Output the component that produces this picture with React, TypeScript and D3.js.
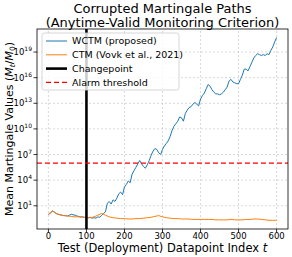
import React from 'react';
import * as d3 from 'd3';

// log10 of the mean martingale
const wctmT = d3.range(0, 601, 5);
const wctmLog = [
  0.0, 0.1, 0.4, 0.3, 0.1, 0.0, -0.05, -0.1, -0.15, -0.15,
  -0.2, -0.1, 0.0, -0.05, -0.1, -0.2, -0.25, -0.3, -0.3, -0.35,
  -0.35, -0.4, -0.35, -0.45, -0.4, -0.45, -0.3, -0.35, -0.1, 0.1,
  0.3, 1.3, 1.5, 1.2, 1.7, 1.5, 1.9, 2.4, 2.6, 2.3,
  3.2, 3.5, 3.9, 3.7, 4.7, 5.1, 5.5, 5.9, 6.3, 5.9,
  5.6, 5.4, 5.8, 6.3, 6.9, 7.4, 7.7, 7.6, 7.2, 7.0,
  7.6, 8.0, 8.3, 8.6, 9.1, 9.8, 10.3, 10.6, 10.9, 11.4,
  11.3, 10.9, 11.8, 12.2, 12.5, 12.6, 12.9, 13.1, 12.9, 12.7,
  13.5, 13.9, 14.2, 14.7, 15.2, 15.0, 14.6, 14.3, 14.1, 14.1,
  14.0, 14.1, 14.3, 14.6, 14.9, 15.6, 15.8, 15.5, 15.4, 15.3,
  15.3, 15.8, 16.3, 17.0, 17.0, 16.8, 17.3, 17.8, 18.3, 18.6,
  18.8, 18.7, 18.6, 18.7, 18.6, 18.8, 18.7, 19.2, 19.6, 20.2,
  20.7,
];
const ctmT = d3.range(0, 601, 10);
const ctmLog = [
  0.0, 0.4, 0.1, -0.05, -0.15, -0.2, -0.25, -0.3, -0.3, -0.35,
  -0.4, -0.4, -0.3, -0.1, 0.1, -0.1, -0.3, -0.4, -0.45, -0.5,
  -0.5, -0.55, -0.55, -0.5, -0.5, -0.45, -0.4, -0.35, -0.25, -0.15,
  -0.3, -0.4, -0.45, -0.5, -0.5, -0.55, -0.55, -0.55, -0.6, -0.6,
  -0.6, -0.6, -0.6, -0.6, -0.65, -0.65, -0.65, -0.65, -0.6, -0.65,
  -0.65, -0.65, -0.6, -0.6, -0.55, -0.55, -0.6, -0.65, -0.7, -0.7,
  -0.7,
];
const changepoint = 100;
const alarmThreshold = 1e6;
const xTicks = [0, 100, 200, 300, 400, 500, 600];
const yTickExps = [1, 4, 7, 10, 13, 16, 19];
const legendLabels = ['WCTM (proposed)', 'CTM (Vovk et al., 2021)', 'Changepoint', 'Alarm threshold'];

const W = 292;
const H = 257;
const margin = { top: 29, right: 4, bottom: 28, left: 37 };
const font = 'DejaVu Sans, sans-serif';

export default function App() {
  const x = d3.scaleLinear().domain([-30, 630]).range([margin.left, W - margin.right]);
  const y = d3.scaleLog().domain([Math.pow(10, -1.72), Math.pow(10, 21.7)]).range([H - margin.bottom, margin.top]);

  const line = d3.line<[number, number]>().x(d => x(d[0])).y(d => y(Math.pow(10, d[1])));
  const wctm = line(wctmT.map((t, i) => [t, wctmLog[i]] as [number, number])) || '';
  const ctm = line(ctmT.map((t, i) => [t, ctmLog[i]] as [number, number])) || '';

  const [x0, x1] = x.range();
  const [y0, y1] = y.range();
  const lx = x0 + 5;
  const ly = y1 + 4;
  const rowH = 13.8;

  return (
    <svg width={W} height={H} style={{ position: 'absolute', left: 0, top: 0 }} fontFamily={font}>
      <rect width={W} height={H} fill="white" />
      <text x={(x0 + x1) / 2} y={12.5} textAnchor="middle" fontSize={13}>Corrupted Martingale Paths</text>
      <text x={(x0 + x1) / 2} y={27} textAnchor="middle" fontSize={13}>(Anytime-Valid Monitoring Criterion)</text>

      <g stroke="#b0b0b0" strokeWidth={0.6} strokeDasharray="2,2" opacity={0.8}>
        {xTicks.map(t => <line key={t} x1={x(t)} x2={x(t)} y1={y0} y2={y1} />)}
        {yTickExps.map(e => <line key={e} x1={x0} x2={x1} y1={y(Math.pow(10, e))} y2={y(Math.pow(10, e))} />)}
      </g>

      <path d={wctm} fill="none" stroke="#1f77b4" strokeWidth={1} />
      <path d={ctm} fill="none" stroke="#ff7f0e" strokeWidth={1} />
      <line x1={x(changepoint)} x2={x(changepoint)} y1={y0} y2={y1} stroke="black" strokeWidth={2.6} />
      <line x1={x0} x2={x1} y1={y(alarmThreshold)} y2={y(alarmThreshold)} stroke="red" strokeWidth={1.3} strokeDasharray="5,3" />

      <rect x={x0} y={y1} width={x1 - x0} height={y0 - y1} fill="none" stroke="black" strokeWidth={0.8} />

      <g fontSize={8.5}>
        {xTicks.map(t => (
          <g key={t} transform={`translate(${x(t)},${y0})`}>
            <line y2={3.5} stroke="black" strokeWidth={0.8} />
            <text y={10} textAnchor="middle">{t}</text>
          </g>
        ))}
        {yTickExps.map(e => (
          <g key={e} transform={`translate(${x0},${y(Math.pow(10, e))})`}>
            <line x2={-3.5} stroke="black" strokeWidth={0.8} />
            <text x={-5} y={3} textAnchor="end">
              10<tspan dy={-4} fontSize={6}>{e}</tspan>
            </text>
          </g>
        ))}
      </g>

      <text x={(x0 + x1) / 2} y={252} textAnchor="middle" fontSize={11.5}>
        Test (Deployment) Datapoint Index <tspan fontStyle="italic">t</tspan>
      </text>
      <text transform={`translate(13,${(y0 + y1) / 2}) rotate(-90)`} textAnchor="middle" fontSize={11}>
        Mean Martingale Values (<tspan fontStyle="italic">M</tspan><tspan fontSize={7.5} dy={2} fontStyle="italic">t</tspan><tspan dy={-2}>/</tspan><tspan fontStyle="italic">M</tspan><tspan fontSize={7.5} dy={2}>0</tspan><tspan dy={-2}>)</tspan>
      </text>

      <g>
        <rect x={lx} y={ly} width={137} height={57} rx={2.5} fill="white" fillOpacity={0.8} stroke="#cccccc" strokeWidth={0.8} />
        {legendLabels.map((lab, i) => {
          const yy = ly + 8 + i * rowH;
          const styles = [
            { stroke: '#1f77b4', w: 1, dash: undefined },
            { stroke: '#ff7f0e', w: 1, dash: undefined },
            { stroke: 'black', w: 2.6, dash: undefined },
            { stroke: 'red', w: 1.3, dash: '5,3' },
          ][i];
          return (
            <g key={lab}>
              <line x1={lx + 4} x2={lx + 25} y1={yy} y2={yy} stroke={styles.stroke} strokeWidth={styles.w} strokeDasharray={styles.dash} />
              <text x={lx + 30} y={yy + 3.3} fontSize={9.5}>{lab}</text>
            </g>
          );
        })}
      </g>
    </svg>
  );
}
